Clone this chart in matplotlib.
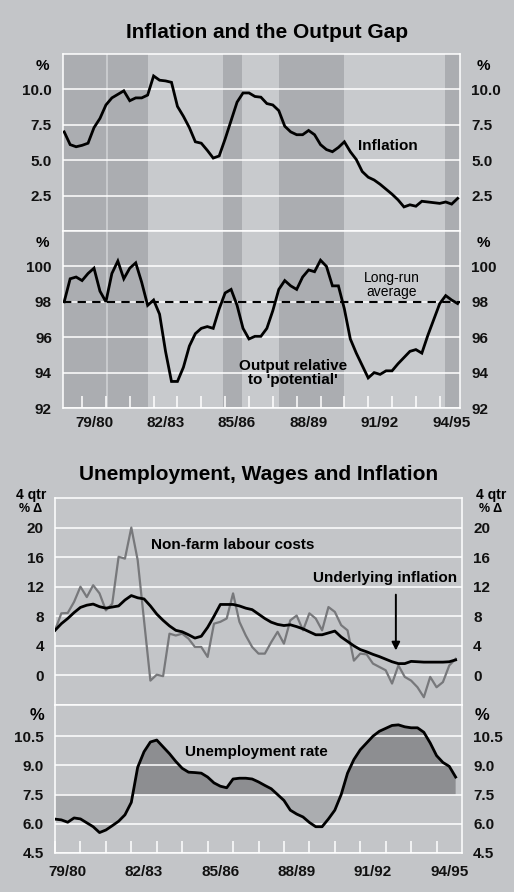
import numpy as np
import matplotlib.pyplot as plt

# quarterly series
inflation = [7.0, 6.1, 5.95, 6.05, 6.2, 7.3, 7.95, 8.9, 9.4, 9.65,
             9.9, 9.2, 9.4, 9.4, 9.6, 10.95, 10.65, 10.6, 10.5, 8.8,
             8.1, 7.3, 6.3, 6.2, 5.7, 5.15, 5.3, 6.5, 7.8, 9.1,
             9.75, 9.75, 9.5, 9.45, 9.0, 8.9, 8.5, 7.4, 7.0, 6.8,
             6.8, 7.1, 6.8, 6.1, 5.75, 5.6, 5.9, 6.3, 5.6, 5.05,
             4.2, 3.8, 3.6, 3.3, 2.95, 2.6, 2.2, 1.7, 1.85, 1.75,
             2.1, 2.05, 2.0, 1.95, 2.05, 1.9, 2.3]
output_gap = [98.0, 99.3, 99.4, 99.2, 99.6, 99.9, 98.6, 98.0, 99.6, 100.3,
              99.3, 99.9, 100.2, 99.1, 97.8, 98.1, 97.3, 95.2, 93.5, 93.5,
              94.3, 95.5, 96.2, 96.5, 96.6, 96.5, 97.6, 98.5, 98.7, 97.8,
              96.5, 95.9, 96.05, 96.05, 96.5, 97.5, 98.7, 99.2, 98.9, 98.7,
              99.4, 99.8, 99.7, 100.35, 100.0, 98.9, 98.9, 97.6, 95.9, 95.1,
              94.4, 93.7, 94.0, 93.9, 94.1, 94.1, 94.5, 94.85, 95.2, 95.3,
              95.1, 96.1, 97.0, 97.9, 98.35, 98.1, 97.9]
long_run_avg = 98.0

underlying = [6.1, 7.0, 7.7, 8.5, 9.2, 9.5, 9.65, 9.3, 9.1, 9.25,
              9.4, 10.2, 10.8, 10.5, 10.35, 9.4, 8.3, 7.45, 6.7, 6.1,
              5.9, 5.5, 5.05, 5.3, 6.5, 8.0, 9.6, 9.6, 9.6, 9.4,
              9.1, 8.9, 8.3, 7.7, 7.2, 6.9, 6.75, 6.85, 6.6, 6.3,
              5.9, 5.5, 5.5, 5.75, 6.0, 5.2, 4.6, 4.0, 3.5, 3.2,
              2.85, 2.55, 2.2, 1.85, 1.6, 1.6, 1.9, 1.85, 1.8, 1.8,
              1.8, 1.8, 1.85, 2.1]
labour_costs = [6.1, 8.4, 8.45, 9.95, 12.0, 10.6, 12.2, 11.1, 8.8, 9.7,
                16.05, 15.8, 20.0, 15.6, 7.45, -0.7, 0.1, -0.1, 5.65, 5.4,
                5.65, 4.97, 3.85, 3.85, 2.5, 7.0, 7.25, 7.7, 11.1, 7.25,
                5.4, 3.85, 2.95, 2.95, 4.5, 5.9, 4.3, 7.45, 8.1, 6.1,
                8.4, 7.7, 6.1, 9.25, 8.6, 6.8, 6.1, 2.0, 2.95, 2.85,
                1.6, 1.15, 0.7, -1.1, 1.35, -0.2, -0.7, -1.6, -2.95, -0.2,
                -1.6, -0.9, 1.35, 2.25]
unemployment = [6.24, 6.2, 6.08, 6.3, 6.25, 6.05, 5.85, 5.55, 5.68, 5.9,
                6.13, 6.46, 7.1, 8.9, 9.7, 10.2, 10.3, 9.95, 9.6, 9.2,
                8.85, 8.65, 8.63, 8.6, 8.4, 8.1, 7.93, 7.85, 8.3, 8.34,
                8.34, 8.3, 8.15, 7.97, 7.8, 7.5, 7.2, 6.7, 6.5, 6.35,
                6.07, 5.85, 5.85, 6.25, 6.7, 7.5, 8.6, 9.3, 9.8, 10.15,
                10.5, 10.75, 10.9, 11.05, 11.08, 10.98, 10.93, 10.93, 10.7, 10.15,
                9.5, 9.15, 8.95, 8.4]
unemp_ref = 7.5

top_start = 1978.75
bottom_start = 1979.5

fy_labels = ['79/80', '82/83', '85/86', '88/89', '91/92', '94/95']
fy_centres = [1980, 1983, 1986, 1989, 1992, 1995]
fy_bounds = np.arange(1979.5, 1995.0, 1.0)
bands = [(1978.7, 1980.5), (1980.6, 1982.25), (1985.4, 1986.2),
         (1987.75, 1990.5), (1994.7, 1995.4)]

BG = '#c3c5c8'
LIGHT = '#c8cacd'
BAND = '#abadb1'
FILL_HI = '#8d8e91'
FILL_LO = '#abadb0'
GREY_LINE = '#77787b'

plt.rcParams['font.family'] = ['Liberation Sans', 'DejaVu Sans']
plt.rcParams['font.weight'] = 'bold'

W, H = 514, 892
fig = plt.figure(figsize=(W / 100, H / 100), dpi=100, facecolor=BG)


def px(x, y):
    return x / W, 1 - y / H


def add_ax(left, top, right, bottom):
    return fig.add_axes([left / W, 1 - bottom / H, (right - left) / W, (bottom - top) / H])


def style(ax, xlim, ylim, yticks, fmt, face):
    ax.set_facecolor(face)
    ax.set_xlim(*xlim)
    ax.set_ylim(*ylim)
    ax.set_yticks(yticks)
    ax.set_yticklabels([fmt % v for v in yticks])
    # gridlines are drawn with the axis, at zorder 2.5 here
    ax.set_axisbelow(False)
    ax.grid(axis='y', color='white', lw=1.1)
    for s in ax.spines.values():
        s.set_color('white')
        s.set_linewidth(1.1)
    ax.tick_params(axis='y', length=0, labelsize=11, pad=8,
                   labelleft=True, labelright=True, colors='#111111')
    ax.tick_params(axis='x', which='both', bottom=False, labelbottom=False)


def fy_axis(ax):
    ax.set_xticks(fy_bounds, minor=True)
    ax.set_xticks(fy_centres)
    ax.set_xticklabels(fy_labels)
    ax.tick_params(axis='x', which='minor', bottom=True, direction='in',
                   length=9, width=1.1, color='white')
    ax.tick_params(axis='x', which='major', length=0, labelbottom=True,
                   labelsize=11, pad=7, colors='#111111')


top_x = top_start + 0.25 * np.arange(len(inflation))
gap_x = top_start + 0.25 * np.arange(len(output_gap))
bot_x = bottom_start + 0.25 * np.arange(len(underlying))
top_xlim = (1978.7, 1995.35)
bot_xlim = (1979.5, 1995.5)

# --- Inflation and the Output Gap ---
ax1 = add_ax(63, 54, 460, 231)
ax2 = add_ax(63, 231, 460, 408)
style(ax1, top_xlim, (0, 12.5), [2.5, 5.0, 7.5, 10.0], '%.1f', LIGHT)
style(ax2, top_xlim, (92, 102), [92, 94, 96, 98, 100], '%d', LIGHT)
for ax in (ax1, ax2):
    for a, b in bands:
        ax.axvspan(a, b, color=BAND, lw=0, zorder=0.5)
fy_axis(ax2)
ax2.tick_params(axis='x', labelsize=11, pad=6)

ax1.plot(top_x, inflation, color='black', lw=2.0, zorder=3,
         solid_joinstyle='miter')
ax2.axhline(long_run_avg, color='black', lw=1.5, ls=(0, (4, 3)), zorder=2.8)
ax2.plot(gap_x, output_gap, color='black', lw=2.0, zorder=3,
         solid_joinstyle='miter')

fig.text(*px(267, 32), 'Inflation and the Output Gap', ha='center', va='center', fontsize=15)
fig.text(*px(388, 146), 'Inflation', ha='center', va='center', fontsize=11)
fig.text(*px(392, 285), 'Long-run\naverage', ha='center', va='center',
         fontsize=10, fontweight='normal', linespacing=1.0)
fig.text(*px(293, 373), "Output relative\nto 'potential'", ha='center', va='center',
         fontsize=11, linespacing=0.95)
for y in (66, 243):
    fig.text(*px(42, y), '%', ha='center', va='center', fontsize=11)
    fig.text(*px(483, y), '%', ha='center', va='center', fontsize=11)

# --- Unemployment, Wages and Inflation ---
ax3 = add_ax(55, 498, 462, 705)
ax4 = add_ax(55, 705, 462, 853)
style(ax3, bot_xlim, (-4, 24), [0, 4, 8, 12, 16, 20], '%d', BG)
style(ax4, bot_xlim, (4.5, 12.1), [4.5, 6.0, 7.5, 9.0, 10.5], '%.1f', BG)
fy_axis(ax4)
ax4.tick_params(axis='x', pad=9)

ax3.plot(bot_x, labour_costs, color=GREY_LINE, lw=1.6, zorder=3)
ax3.plot(bot_x, underlying, color='black', lw=2.0, zorder=4)
ax3.annotate('', xy=(1992.9, 3.0), xytext=(1992.9, 11.3),
             arrowprops=dict(arrowstyle='-|>', color='black', lw=1.4,
                             mutation_scale=12), zorder=5)

u = np.array(unemployment)
ax4.fill_between(bot_x, u, unemp_ref, where=u >= unemp_ref, interpolate=True,
                 color=FILL_HI, lw=0, zorder=2)
ax4.fill_between(bot_x, u, unemp_ref, where=u <= unemp_ref, interpolate=True,
                 color=FILL_LO, lw=0, zorder=2)
ax4.plot(bot_x, u, color='black', lw=2.0, zorder=4)

fig.text(*px(259, 474), 'Unemployment, Wages and Inflation', ha='center', va='center', fontsize=15)
fig.text(*px(233, 545), 'Non-farm labour costs', ha='center', va='center', fontsize=11)
fig.text(*px(385, 578), 'Underlying inflation', ha='center', va='center', fontsize=11)
fig.text(*px(256, 752), 'Unemployment rate', ha='center', va='center', fontsize=11)
for x in (31, 491):
    fig.text(*px(x, 495), '4 qtr', ha='center', va='center', fontsize=10)
    fig.text(*px(x, 509), '% \u0394', ha='center', va='center', fontsize=9)
fig.text(*px(37, 715), '%', ha='center', va='center', fontsize=12)
fig.text(*px(482, 715), '%', ha='center', va='center', fontsize=12)

fig.savefig('out.png', dpi=100, facecolor=BG)
